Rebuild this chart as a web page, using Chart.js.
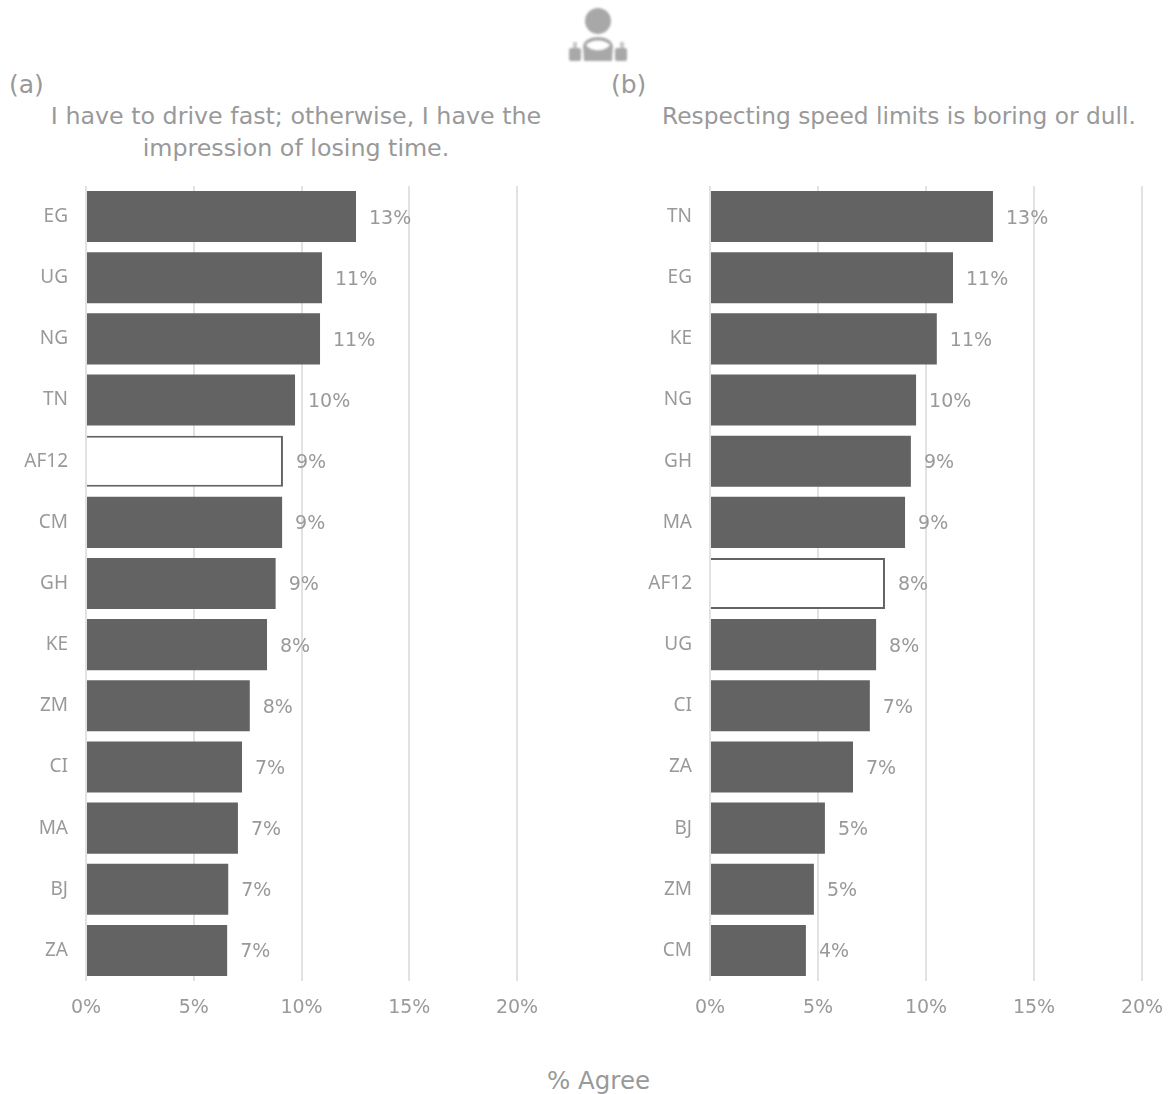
<!DOCTYPE html>
<html>
<head>
<meta charset="utf-8">
<script src="https://cdn.jsdelivr.net/npm/chart.js@4"></script>
<style>
  html, body { margin: 0; padding: 0; background: #fff; }
  body { width: 1168px; height: 1094px; position: relative; overflow: hidden; font-family: "DejaVu Sans", sans-serif; color: #999; }
  .txt { position: absolute; white-space: nowrap; }
  .ttl { line-height: 32px; text-align: center; }
  canvas { position: absolute; }
</style>
</head>
<body>
<svg class="txt" style="left:560px;top:5px" width="76" height="62" viewBox="0 0 76 62">
  <defs><filter id="soft"><feGaussianBlur stdDeviation="0.8"/></filter></defs>
  <g filter="url(#soft)" fill="#a8a8a8">
    <circle cx="38" cy="16" r="13"/>
    <path fill-rule="evenodd" d="M23 41 C25 29 51 29 53 41 L52 56 L24 56 Z M26 40 C31 47 45 47 50 40 C45 34 31 34 26 40 Z"/>
    <rect x="9" y="43" width="12" height="13" rx="2"/>
    <rect x="55" y="43" width="12" height="13" rx="2"/>
    <rect x="13" y="37" width="4" height="6" fill="#c8c8c8"/>
    <rect x="60" y="37" width="4" height="6" fill="#c8c8c8"/>
  </g>
</svg>
<div class="txt" style="left:9px;top:70px;font-size:25px">(a)</div>
<div class="txt" style="left:611px;top:70px;font-size:25px">(b)</div>
<div class="txt ttl" style="left:0;top:100px;width:592px;font-size:23.75px">I have to drive fast; otherwise, I have the<br>impression of losing time.</div>
<div class="txt ttl" style="left:630px;top:100px;width:538px;font-size:23.3px">Respecting speed limits is boring or dull.</div>
<div class="txt" style="left:0;top:1066px;width:1197px;text-align:center;font-size:24.5px">% Agree</div>

<canvas id="chartA" style="left:0;top:180px" width="584" height="860"></canvas>
<canvas id="chartB" style="left:624px;top:180px" width="544" height="860"></canvas>

<script>
const countries_a = ['EG','UG','NG','TN','AF12','CM','GH','KE','ZM','CI','MA','BJ','ZA'];
const values_a = [12.53,10.95,10.86,9.7,9.14,9.1,8.8,8.4,7.6,7.24,7.05,6.6,6.55];
const labels_a = ['13%','11%','11%','10%','9%','9%','9%','8%','8%','7%','7%','7%','7%'];

const countries_b = ['TN','EG','KE','NG','GH','MA','AF12','UG','CI','ZA','BJ','ZM','CM'];
const values_b = [13.1,11.25,10.5,9.54,9.3,9.03,8.1,7.69,7.4,6.62,5.32,4.81,4.44];
const labels_b = ['13%','11%','11%','10%','9%','9%','8%','8%','7%','7%','5%','5%','4%'];

const tick_values = [0,5,10,15,20];

const textGrey = '#999999';
const barGrey = '#636363';
const fontName = '"DejaVu Sans", sans-serif';

// puts the % text just after the end of each bar
const barLabels = {
    id: 'barLabels',
    afterDatasetsDraw(chart, args, opts) {
        const ctx = chart.ctx;
        ctx.save();
        ctx.font = '19px ' + fontName;
        ctx.fillStyle = textGrey;
        ctx.textBaseline = 'middle';
        chart.getDatasetMeta(0).data.forEach(function(bar, i) {
            ctx.fillText(opts.texts[i], bar.x + 13, bar.y + 2);
        });
        ctx.restore();
    }
};

function makeChart(id, cats, vals, texts, rightPad) {
    return new Chart(document.getElementById(id).getContext('2d'), {
        type: 'bar',
        plugins: [barLabels],
        data: {
            labels: cats,
            datasets: [{
                data: vals,
                backgroundColor: cats.map(c => c === 'AF12' ? '#ffffff' : barGrey),
                borderColor: barGrey,
                borderWidth: cats.map(c => c === 'AF12' ? 2 : 0),
                barPercentage: 0.835,
                categoryPercentage: 1
            }]
        },
        options: {
            indexAxis: 'y',
            responsive: false,
            animation: false,
            layout: { padding: { top: 6, right: rightPad, bottom: 0, left: 0 } },
            plugins: {
                legend: { display: false },
                tooltip: { enabled: false },
                barLabels: { texts: texts }
            },
            scales: {
                x: {
                    min: 0,
                    max: 20,
                    afterBuildTicks: function(axis) { axis.ticks = tick_values.map(v => ({ value: v })); },
                    afterFit: function(axis) {
                        axis.height = 59;
                        axis.paddingLeft = 0;
                        axis.paddingRight = 0;
                    },
                    grid: { color: '#e2e2e2', lineWidth: 2, drawTicks: false },
                    border: { display: false },
                    ticks: {
                        color: textGrey,
                        font: { family: fontName, size: 19 },
                        padding: 16,
                        maxRotation: 0,
                        callback: v => v + '%'
                    }
                },
                y: {
                    afterFit: function(axis) {
                        axis.width = 86;
                        axis.paddingTop = 0;
                        axis.paddingBottom = 0;
                    },
                    grid: { display: false },
                    border: { display: false },
                    ticks: {
                        color: textGrey,
                        font: { family: '"Noto Sans", sans-serif', size: 19 },
                        padding: 10
                    }
                }
            }
        }
    });
}

makeChart('chartA', countries_a, values_a, labels_a, 67);
makeChart('chartB', countries_b, values_b, labels_b, 26);
</script>
</body>
</html>
